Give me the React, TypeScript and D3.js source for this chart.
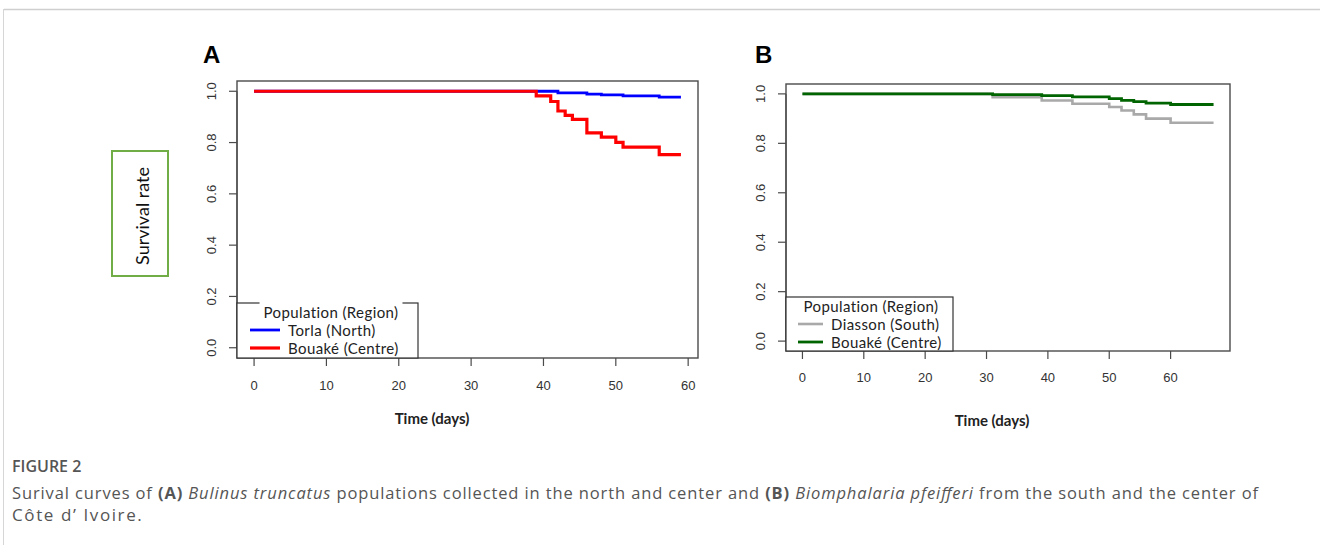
import React, { useRef, useEffect } from 'react'
import * as d3 from 'd3'

// Panel A: Bulinus truncatus (time in days, survival probability, step after)
const torlaTime = [0, 42, 46, 48, 51, 56, 59]
const torlaSurv = [1.0, 0.994, 0.989, 0.986, 0.982, 0.977, 0.977]
const bouakeATime = [0, 39, 41, 42, 43, 44, 46, 48, 50, 51, 56, 59]
const bouakeASurv = [1.0, 0.982, 0.96, 0.923, 0.906, 0.89, 0.838, 0.821, 0.801, 0.782, 0.753, 0.753]

// Panel B: Biomphalaria pfeifferi
const diassonTime = [0, 31, 39, 44, 50, 52, 54, 56, 60, 67]
const diassonSurv = [1.0, 0.987, 0.973, 0.96, 0.947, 0.933, 0.917, 0.9, 0.883, 0.883]
const bouakeBTime = [0, 31, 39, 44, 50, 52, 54, 56, 60, 67]
const bouakeBSurv = [1.0, 0.997, 0.993, 0.988, 0.981, 0.974, 0.969, 0.963, 0.957, 0.957]

const xTicksA = [0, 10, 20, 30, 40, 50, 60]
const xTicksB = [0, 10, 20, 30, 40, 50, 60]
const yTicks = [0, 0.2, 0.4, 0.6, 0.8, 1.0]

const legendTitle = 'Population (Region)'
const legendA = ['Torla (North)', 'Bouaké (Centre)']
const legendB = ['Diasson (South)', 'Bouaké (Centre)']

const W = 1320
const H = 545
const tickFont = '"Liberation Sans", Arial, sans-serif'
const plotFont = 'Lato, "Open Sans", sans-serif'
const captionFont = '"Open Sans", "Noto Sans", sans-serif'

function zip(t: number[], s: number[]) {
    return t.map((d, i) => [d, s[i]] as [number, number])
}

function drawPanel(svg: any, opts: any) {
    const { box, xMax, xTicks, series, legend, legendBox, legendGap, letter, tickLabelY, titleY, titleX } = opts
    const pad = xMax * 0.04
    const x = d3.scaleLinear().domain([-pad, xMax + pad]).range([box.x0, box.x1])
    const y = d3.scaleLinear().domain([-0.04, 1.04]).range([box.y1, box.y0])

    const g = svg.append('g')

    // curves
    const line = d3.line<[number, number]>()
        .x(d => x(d[0]))
        .y(d => y(d[1]))
        .curve(d3.curveStepAfter)
    series.forEach((s: any) => {
        g.append('path')
            .datum(zip(s.time, s.surv))
            .attr('d', line)
            .attr('fill', 'none')
            .attr('stroke', s.color)
            .attr('stroke-width', s.width)
    })

    // box
    g.append('rect')
        .attr('x', box.x0).attr('y', box.y0)
        .attr('width', box.x1 - box.x0).attr('height', box.y1 - box.y0)
        .attr('fill', 'none').attr('stroke', '#4a4a4a').attr('stroke-width', 1.4)

    // y axis
    yTicks.forEach(v => {
        g.append('line')
            .attr('x1', box.x0 - 8).attr('x2', box.x0)
            .attr('y1', y(v)).attr('y2', y(v))
            .attr('stroke', '#4a4a4a').attr('stroke-width', 1.2)
        const lx = box.x0 - 26
        g.append('text')
            .attr('transform', `translate(${lx},${y(v)}) rotate(-90)`)
            .attr('text-anchor', 'middle')
            .attr('dominant-baseline', 'central')
            .attr('fill', '#333')
            .style('font-family', tickFont)
            .style('font-size', '13px')
            .text(d3.format('.1f')(v))
    })
    g.append('line')
        .attr('x1', box.x0).attr('x2', box.x0)
        .attr('y1', y(0)).attr('y2', y(1))
        .attr('stroke', '#4a4a4a').attr('stroke-width', 1.2)

    // x axis
    xTicks.forEach((v: number) => {
        g.append('line')
            .attr('x1', x(v)).attr('x2', x(v))
            .attr('y1', box.y1).attr('y2', box.y1 + 8)
            .attr('stroke', '#4a4a4a').attr('stroke-width', 1.2)
        g.append('text')
            .attr('x', x(v)).attr('y', tickLabelY)
            .attr('text-anchor', 'middle')
            .attr('dominant-baseline', 'central')
            .attr('fill', '#333')
            .style('font-family', tickFont)
            .style('font-size', '13px')
            .text(v)
    })

    g.append('text')
        .attr('x', titleX).attr('y', titleY)
        .attr('text-anchor', 'middle')
        .attr('dominant-baseline', 'central')
        .attr('fill', '#222')
        .style('font-family', plotFont)
        .style('font-size', '15px')
        .style('font-weight', 700)
        .text('Time (days)')

    // panel letter
    g.append('text')
        .attr('x', letter.x).attr('y', letter.y)
        .attr('dominant-baseline', 'central')
        .attr('fill', '#000')
        .style('font-family', tickFont)
        .style('font-size', '24px')
        .style('font-weight', 700)
        .text(letter.text)

    // legend
    const lb = legendBox
    g.append('rect')
        .attr('x', lb.x0).attr('y', lb.y0)
        .attr('width', lb.x1 - lb.x0).attr('height', lb.y1 - lb.y0)
        .attr('fill', '#fff').attr('stroke', '#333').attr('stroke-width', 1.2)
    const title = g.append('text')
        .attr('x', lb.tx).attr('y', lb.ty)
        .attr('text-anchor', 'middle')
        .attr('dominant-baseline', 'central')
        .attr('fill', '#222')
        .style('font-family', plotFont)
        .style('font-size', '15px')
        .style('letter-spacing', '0.4px')
        .text(legendTitle)
    if (legendGap) {
        const bb = (title.node() as SVGTextElement).getBBox()
        g.insert('rect', 'text:last-child')
            .attr('x', bb.x - 4).attr('y', lb.y0 - 2)
            .attr('width', bb.width + 8).attr('height', 4)
            .attr('fill', '#fff')
    }
    legend.forEach((name: string, i: number) => {
        const yy = lb.ey[i]
        g.append('line')
            .attr('x1', lb.lx0).attr('x2', lb.lx1)
            .attr('y1', yy).attr('y2', yy)
            .attr('stroke', series[i].color)
            .attr('stroke-width', series[i].width)
        g.append('text')
            .attr('x', lb.lx1 + 8).attr('y', yy)
            .attr('dominant-baseline', 'central')
            .attr('fill', '#222')
            .style('font-family', plotFont)
            .style('font-size', '15px')
            .style('letter-spacing', '0.4px')
            .text(name)
    })
}

export default function App() {
    const svgRef = useRef<SVGSVGElement>(null)

    useEffect(() => {
        if (!svgRef.current) return
        const svg = d3.select(svgRef.current)
        svg.selectAll('*').remove()

        drawPanel(svg, {
            box: { x0: 237, x1: 698, y0: 81, y1: 358 },
            xMax: 59,
            xTicks: xTicksA,
            series: [
                { time: torlaTime, surv: torlaSurv, color: '#0000ff', width: 2.8 },
                { time: bouakeATime, surv: bouakeASurv, color: '#ff0000', width: 3.2 },
            ],
            legend: legendA,
            legendBox: { x0: 237, x1: 418, y0: 303, y1: 358, tx: 331, ty: 312, ey: [330, 348], lx0: 250, lx1: 280 },
            legendGap: true,
            letter: { text: 'A', x: 203, y: 54 },
            tickLabelY: 385,
            titleX: 432,
            titleY: 418,
        })

        drawPanel(svg, {
            box: { x0: 786, x1: 1230, y0: 84, y1: 351 },
            xMax: 67,
            xTicks: xTicksB,
            series: [
                { time: diassonTime, surv: diassonSurv, color: '#a9a9a9', width: 2.6 },
                { time: bouakeBTime, surv: bouakeBSurv, color: '#006400', width: 2.8 },
            ],
            legend: legendB,
            legendBox: { x0: 786, x1: 953, y0: 297, y1: 351, tx: 871, ty: 306, ey: [324, 342], lx0: 798, lx1: 823 },
            legendGap: false,
            letter: { text: 'B', x: 755, y: 54 },
            tickLabelY: 377,
            titleX: 992,
            titleY: 420,
        })
    }, [])

    return (
        <div style={{ position: 'absolute', left: 0, top: 0 }}>
            <svg ref={svgRef} width={W} height={H} style={{ position: 'absolute', left: 0, top: 0 }} />
            <svg width={W} height={H} style={{ position: 'absolute', left: 0, top: 0, pointerEvents: 'none' }}>
                {/* page frame */}
                <line x1={4} x2={W} y1={9.5} y2={9.5} stroke="#cfcfcf" strokeWidth={1.5} />
                <line x1={3.5} x2={3.5} y1={9} y2={H} stroke="#d6d6d6" strokeWidth={1} />
                {/* y axis label box */}
                <rect x={112} y={151} width={56} height={125} fill="none" stroke="#70ad47" strokeWidth={2} />
                <text transform="translate(142,216) rotate(-90)" textAnchor="middle" dominantBaseline="central"
                    fill="#111" style={{ fontFamily: plotFont, fontSize: 18 }}>Survival rate</text>
                {/* caption */}
                <text x={12} y={466} dominantBaseline="central" fill="#555"
                    style={{ fontFamily: captionFont, fontSize: 16, fontWeight: 600 }}>FIGURE 2</text>
                <text x={12} y={492} dominantBaseline="central" fill="#555" textLength={1246} lengthAdjust="spacing"
                    style={{ fontFamily: captionFont, fontSize: 16.5 }}>
                    Surival curves of <tspan fontWeight={700}>(A)</tspan> <tspan fontStyle="italic">Bulinus truncatus</tspan> populations
                    collected in the north and center and <tspan fontWeight={700}>(B)</tspan> <tspan fontStyle="italic">Biomphalaria pfeifferi</tspan> from
                    the south and the center of
                </text>
                <text x={12} y={514} dominantBaseline="central" fill="#555" letterSpacing={1.6}
                    style={{ fontFamily: captionFont, fontSize: 17 }}>Côte d’ Ivoire.</text>
            </svg>
        </div>
    )
}
